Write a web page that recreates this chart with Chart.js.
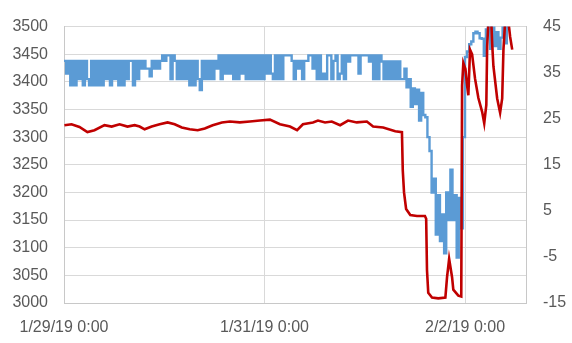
<!DOCTYPE html>
<html>
<head>
<meta charset="utf-8">
<script src="https://cdn.jsdelivr.net/npm/chart.js@4.4.1/dist/chart.umd.min.js"></script>
<style>
  body { margin: 0; background: #fff; }
  #wrap { width: 572px; height: 343px; }
</style>
</head>
<body>
<div id="wrap"><canvas id="tempChart" width="572" height="343"></canvas></div>
<script>
// x axis is hours since 1/29/19 0:00
const tickHours = [0, 48, 96];
const tickLabels = ['1/29/19 0:00', '1/31/19 0:00', '2/2/19 0:00'];
const xMaxHours = 110.6;

// left axis series, one reading every half hour
const blueStepHours = 0.5;
const blueValues = [
  3438, 3415, 3438, 3394, 3438, 3394, 3438, 3405, 3438, 3394,
  3438, 3405, 3394, 3438, 3394, 3438, 3394, 3438, 3394, 3438,
  3405, 3438, 3394, 3438, 3405, 3438, 3394, 3438, 3394, 3438,
  3405, 3438, 3438, 3394, 3438, 3405, 3438, 3424, 3438, 3424,
  3424, 3410, 3438, 3424, 3438, 3424, 3438, 3448, 3438, 3448,
  3448, 3405, 3448, 3438, 3405, 3438, 3405, 3438, 3405, 3438,
  3394, 3438, 3394, 3438, 3405, 3385, 3438, 3405, 3438, 3405,
  3438, 3405, 3438, 3424, 3448, 3405, 3448, 3415, 3448, 3415,
  3448, 3405, 3448, 3405, 3448, 3415, 3448, 3405, 3448, 3405,
  3448, 3405, 3448, 3405, 3448, 3405, 3448, 3415, 3448, 3415,
  3405, 3448, 3405, 3448, 3405, 3448, 3448, 3448, 3448, 3438,
  3405, 3438, 3424, 3438, 3405, 3438, 3438, 3448, 3448, 3424,
  3448, 3405, 3448, 3405, 3415, 3405, 3448, 3448, 3405, 3438,
  3448, 3405, 3415, 3448, 3405, 3448, 3437, 3448, 3448, 3448,
  3448, 3415, 3448, 3448, 3448, 3448, 3437, 3448, 3405, 3448,
  3405, 3448, 3437, 3405, 3437, 3405, 3437, 3405, 3437, 3405,
  3437, 3405, 3405, 3424, 3390, 3405, 3355, 3388, 3360, 3386,
  3330, 3380, 3340, 3336, 3300, 3275, 3200, 3225, 3124, 3195,
  3112, 3160, 3090, 3200, 3150, 3241, 3150, 3195, 3082, 3190,
  3135, 3300, 3445, 3455, 3468, 3473, 3488, 3491, 3488, 3479,
  3478, 3447, 3495, 3505, 3460, 3500, 3465, 3490, 3460, 3480,
  3505, 3470, 3510
];

// right axis series
const redHours = [
  0.1, 1.8, 3.7, 5.6, 7.3, 9.7, 11.4, 13.3, 15.2, 16.9,
  18.1, 19.3, 21.0, 22.9, 24.8, 26.5, 28.2, 30.1, 32.0, 33.7,
  35.6, 37.8, 39.7, 42.1, 44.5, 46.9, 49.3, 51.7, 54.1, 55.8,
  57.2, 59.6, 60.8, 62.5, 64.1, 66.1, 68.0, 70.1, 72.5, 74.0,
  76.4, 79.3, 80.9, 81.1, 81.4, 81.9, 82.9, 84.5, 86.4, 86.7,
  86.9, 87.2, 88.1, 89.6, 91.3, 91.7, 92.2, 92.9, 93.2, 94.4,
  95.1, 95.3, 95.6, 96.1, 96.5, 96.8, 97.2, 97.7, 98.4, 99.2,
  100.1, 100.6, 101.1, 101.3, 101.6, 102.3, 102.5, 102.8, 103.7, 104.4,
  104.9, 105.2, 105.6, 106.4, 106.8, 107.3
];
const redValues = [
  23.6, 23.8, 23.2, 22.1, 22.5, 23.6, 23.3, 23.8, 23.3, 23.6,
  23.3, 22.7, 23.3, 23.8, 24.2, 23.8, 23.1, 22.7, 22.5, 22.9,
  23.6, 24.2, 24.4, 24.2, 24.4, 24.6, 24.8, 23.8, 23.3, 22.5,
  23.8, 24.2, 24.6, 24.2, 24.4, 23.6, 24.6, 24.2, 24.4, 23.3,
  23.1, 22.3, 22.1, 13.8, 9.0, 5.4, 4.1, 3.9, 3.9, 3.3,
  -7.9, -12.8, -13.8, -14.0, -13.8, -9.4, -5.4, -9.4, -12.1, -13.4,
  -13.6, 32.2, 37.1, 35.8, 32.2, 30.1, 40.0, 39.0, 33.7, 29.5,
  26.5, 24.0, 28.0, 40.7, 46.0, 46.0, 41.3, 36.4, 29.4, 26.3,
  29.4, 40.0, 46.0, 46.0, 42.8, 40.0
];

const leftMin = 3000, leftMax = 3500, leftStep = 50;
const rightMin = -15, rightMax = 45, rightStep = 10;

const bluePoints = blueValues.map((v, i) => ({ x: i * blueStepHours, y: v }));
const redPoints = redHours.map((h, i) => ({ x: h, y: redValues[i] }));

const tickFont = { family: "'Liberation Sans', Arial, sans-serif", size: 16 };
const tickColor = '#595959';
const gridColor = '#d9d9d9';
const axisColor = '#c8c8c8';

new Chart(document.getElementById('tempChart'), {
  type: 'line',
  data: {
    datasets: [
      {
        label: 'red',
        data: redPoints,
        yAxisID: 'yRight',
        borderColor: '#c00000',
        borderWidth: 2.6,
        pointRadius: 0,
        tension: 0,
        order: 0
      },
      {
        label: 'blue',
        data: bluePoints,
        yAxisID: 'yLeft',
        borderColor: '#5b9bd5',
        borderWidth: 2.4,
        pointRadius: 0,
        stepped: true,
        order: 1
      }
    ]
  },
  options: {
    responsive: false,
    animation: false,
    layout: { padding: { top: 19, left: 0, right: 0, bottom: 0 } },
    plugins: {
      legend: { display: false },
      tooltip: { enabled: false }
    },
    scales: {
      x: {
        type: 'linear',
        min: 0,
        max: xMaxHours,
        afterBuildTicks: (scale) => {
          scale.ticks = tickHours.map(h => ({ value: h }));
        },
        afterFit: (scale) => { scale.height = 40; },
        ticks: {
          autoSkip: false,
          maxRotation: 0,
          padding: 15,
          color: tickColor,
          font: tickFont,
          callback: (value) => {
            const idx = tickHours.indexOf(value);
            return idx >= 0 ? tickLabels[idx] : '';
          }
        },
        grid: { color: gridColor, drawTicks: false },
        border: { color: axisColor }
      },
      yLeft: {
        position: 'left',
        min: leftMin,
        max: leftMax,
        afterFit: (scale) => { scale.width = 64; },
        ticks: {
          stepSize: leftStep,
          padding: 16,
          color: tickColor,
          font: tickFont,
          callback: (value) => String(value)
        },
        grid: { color: gridColor, drawTicks: false },
        border: { color: axisColor }
      },
      yRight: {
        position: 'right',
        min: rightMin,
        max: rightMax,
        afterFit: (scale) => { scale.width = 46; },
        ticks: {
          stepSize: rightStep,
          padding: 17,
          color: tickColor,
          font: tickFont,
          callback: (value) => String(value)
        },
        grid: { drawOnChartArea: false, drawTicks: false },
        border: { color: axisColor }
      }
    }
  }
});
</script>
</body>
</html>
